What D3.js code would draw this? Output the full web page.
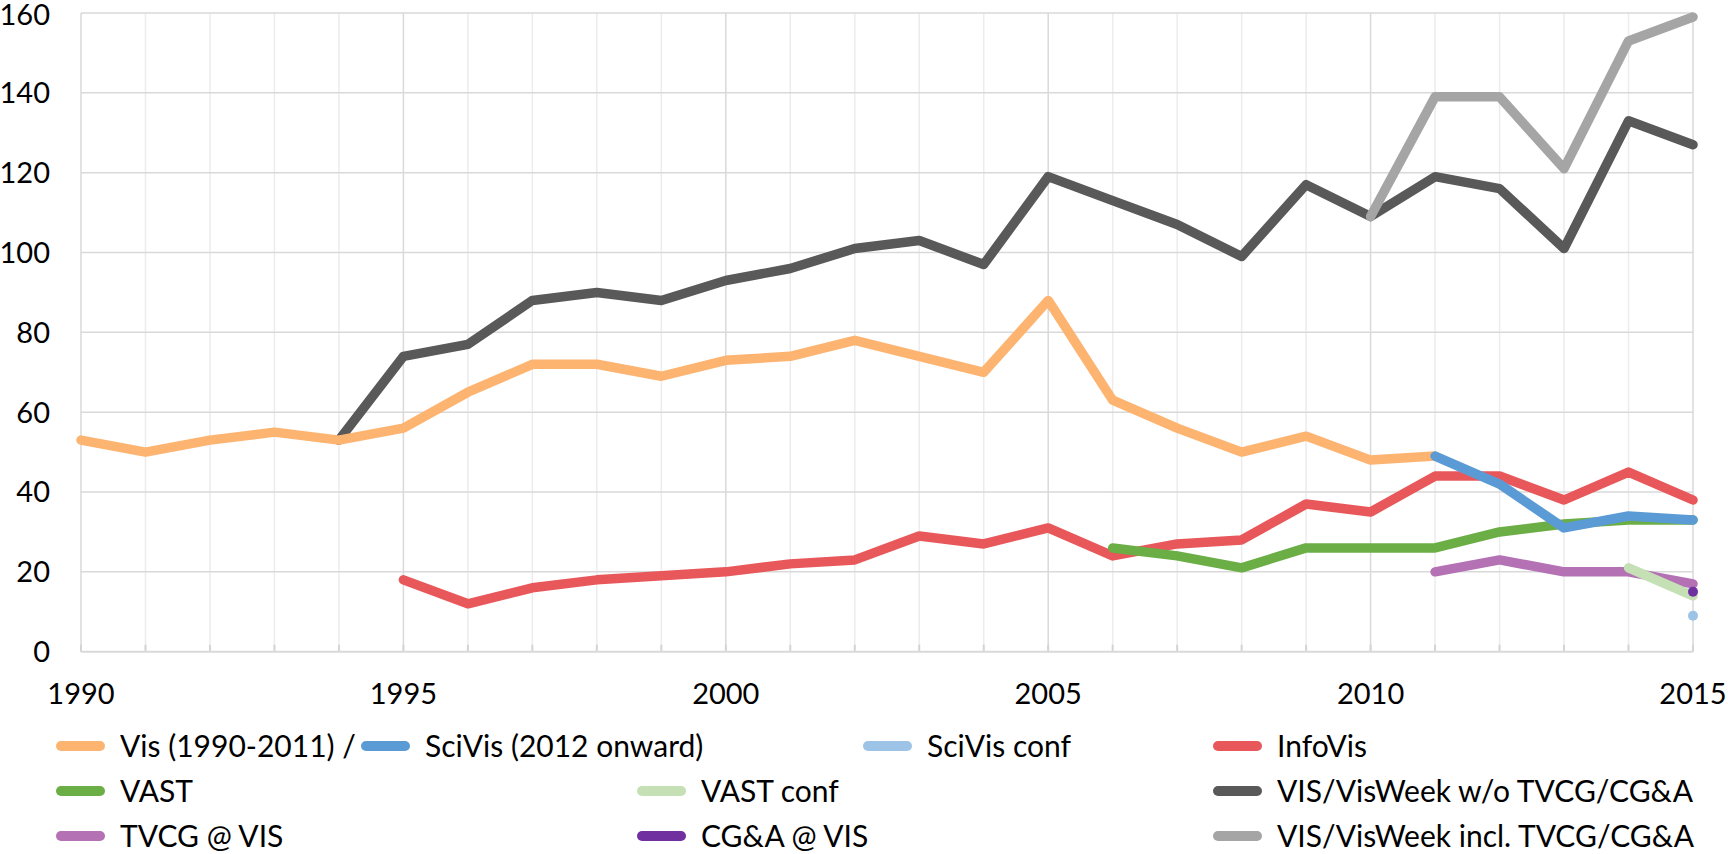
<!DOCTYPE html>
<html>
<head>
<meta charset="utf-8">
<script src="https://cdn.jsdelivr.net/npm/d3@7.9.0/dist/d3.min.js"></script>
<style>
  html, body { margin: 0; padding: 0; background: #fff; }
  svg { display: block; font-family: Lato, "Noto Sans", sans-serif; }
</style>
</head>
<body>
<svg id="chart" width="1728" height="854"></svg>
<script>
// years on the x axis
const years = [1990, 1991, 1992, 1993, 1994, 1995, 1996, 1997, 1998, 1999, 2000, 2001, 2002,
               2003, 2004, 2005, 2006, 2007, 2008, 2009, 2010, 2011, 2012, 2013, 2014, 2015];

// paper counts per year (null = no value)
const vis = [53, 50, 53, 55, 53, 56, 65, 72, 72, 69, 73, 74, 78, 74, 70, 88, 63, 56, 50, 54, 48, 49,
             null, null, null, null];
const scivis = [null, null, null, null, null, null, null, null, null, null, null, null, null,
                null, null, null, null, null, null, null, null, 49, 42, 31, 34, 33];
const scivisConf = [null, null, null, null, null, null, null, null, null, null, null, null, null,
                    null, null, null, null, null, null, null, null, null, null, null, null, 9];
const infovis = [null, null, null, null, null, 18, 12, 16, 18, 19, 20, 22, 23, 29, 27, 31, 24, 27,
                 28, 37, 35, 44, 44, 38, 45, 38];
const vast = [null, null, null, null, null, null, null, null, null, null, null, null, null,
              null, null, null, 26, 24, 21, 26, 26, 26, 30, 32, 33, 33];
const vastConf = [null, null, null, null, null, null, null, null, null, null, null, null, null,
                  null, null, null, null, null, null, null, null, null, null, null, 21, 14];
const visWeekWo = [null, null, null, null, 53, 74, 77, 88, 90, 88, 93, 96, 101, 103, 97, 119, 113,
                   107, 99, 117, 109, 119, 116, 101, 133, 127];
const tvcgAtVis = [null, null, null, null, null, null, null, null, null, null, null, null, null,
                   null, null, null, null, null, null, null, null, 20, 23, 20, 20, 17];
const cgaAtVis = [null, null, null, null, null, null, null, null, null, null, null, null, null,
                  null, null, null, null, null, null, null, null, null, null, null, null, 15];
const visWeekIncl = [null, null, null, null, null, null, null, null, null, null, null, null, null,
                     null, null, null, null, null, null, null, 109, 139, 139, 121, 153, 159];

const yTicks = [0, 20, 40, 60, 80, 100, 120, 140, 160];
const xTicks = [1990, 1995, 2000, 2005, 2010, 2015];

const series = [
  { name: 'VIS/VisWeek w/o TVCG/CG&A', values: visWeekWo, color: '#595959' },
  { name: 'VIS/VisWeek incl. TVCG/CG&A', values: visWeekIncl, color: '#a5a5a5' },
  { name: 'Vis (1990-2011) /', values: vis, color: '#fdb471' },
  { name: 'InfoVis', values: infovis, color: '#e8585b' },
  { name: 'VAST', values: vast, color: '#6bae45' },
  { name: 'SciVis (2012 onward)', values: scivis, color: '#5b9bd5' },
  { name: 'TVCG @ VIS', values: tvcgAtVis, color: '#b471b4' },
  { name: 'VAST conf', values: vastConf, color: '#c5e0b4' },
  { name: 'CG&A @ VIS', values: cgaAtVis, color: '#7030a0' },
  { name: 'SciVis conf', values: scivisConf, color: '#9dc3e6' },
];

// legend layout: [series name, column x, row]
const legendItems = [
  ['Vis (1990-2011) /', 56, 0], ['SciVis (2012 onward)', 361, 0], ['SciVis conf', 863, 0], ['InfoVis', 1213, 0],
  ['VAST', 56, 1], ['VAST conf', 637, 1], ['VIS/VisWeek w/o TVCG/CG&A', 1213, 1],
  ['TVCG @ VIS', 56, 2], ['CG&A @ VIS', 637, 2], ['VIS/VisWeek incl. TVCG/CG&A', 1213, 2],
];

const svg = d3.select('#chart');
const plot = { left: 81, right: 1693, top: 13, bottom: 651.7 };

const x = d3.scaleLinear().domain([1990, 2015]).range([plot.left, plot.right]);
const y = d3.scaleLinear().domain([0, 160]).range([plot.bottom, plot.top]);

// vertical gridlines (every year, darker every 5)
svg.append('g')
  .selectAll('line')
  .data(years)
  .join('line')
  .attr('x1', d => x(d)).attr('x2', d => x(d))
  .attr('y1', plot.top).attr('y2', plot.bottom)
  .attr('stroke', d => d % 5 === 0 ? '#d9d9d9' : '#ececec')
  .attr('stroke-width', 1.5);

// small ticks at each year on the x axis
svg.append('g')
  .selectAll('line')
  .data(years)
  .join('line')
  .attr('x1', d => x(d)).attr('x2', d => x(d))
  .attr('y1', plot.bottom - 7).attr('y2', plot.bottom)
  .attr('stroke', '#d4d4d4')
  .attr('stroke-width', 2);

// horizontal gridlines
svg.append('g')
  .selectAll('line')
  .data(yTicks)
  .join('line')
  .attr('x1', plot.left).attr('x2', plot.right)
  .attr('y1', d => y(d)).attr('y2', d => y(d))
  .attr('stroke', '#d9d9d9')
  .attr('stroke-width', d => d === 0 ? 2 : 1.5);

// y labels
svg.append('g')
  .selectAll('text')
  .data(yTicks)
  .join('text')
  .attr('x', 50)
  .attr('y', d => Math.max(y(d), 15))
  .attr('dy', '0.36em')
  .attr('text-anchor', 'end')
  .attr('font-size', 29)
  .attr('fill', '#000')
  .text(d => d);

// x labels
svg.append('g')
  .selectAll('text')
  .data(xTicks)
  .join('text')
  .attr('x', d => x(d))
  .attr('y', 694)
  .attr('dy', '0.36em')
  .attr('text-anchor', 'middle')
  .attr('font-size', 29)
  .attr('fill', '#000')
  .text(d => d);

const line = d3.line()
  .defined(d => d.v !== null)
  .x(d => x(d.year))
  .y(d => y(d.v));

const lines = svg.append('g').attr('class', 'lines');
series.forEach(s => {
  const pts = years.map((year, i) => ({ year, v: s.values[i] }));
  const count = pts.filter(p => p.v !== null).length;
  if (count > 1) {
    lines.append('path')
      .datum(pts)
      .attr('d', line)
      .attr('fill', 'none')
      .attr('stroke', s.color)
      .attr('stroke-width', 9.5)
      .attr('stroke-linecap', 'round')
      .attr('stroke-linejoin', 'round');
  } else {
    lines.selectAll(null)
      .data(pts.filter(p => p.v !== null))
      .join('circle')
      .attr('cx', d => x(d.year))
      .attr('cy', d => y(d.v))
      .attr('r', 5)
      .attr('fill', s.color);
  }
});

// legend
const rowY = [746, 791, 836];
const legend = svg.append('g')
  .selectAll('g')
  .data(legendItems)
  .join('g')
  .attr('transform', d => `translate(${d[1]},${rowY[d[2]]})`);

legend.append('line')
  .attr('x1', 5).attr('x2', 44)
  .attr('stroke', d => series.find(s => s.name === d[0]).color)
  .attr('stroke-width', 10)
  .attr('stroke-linecap', 'round');

legend.append('text')
  .attr('x', 64)
  .attr('dy', '0.36em')
  .attr('font-size', 30)
  .attr('fill', '#000')
  .text(d => d[0]);
</script>
</body>
</html>
